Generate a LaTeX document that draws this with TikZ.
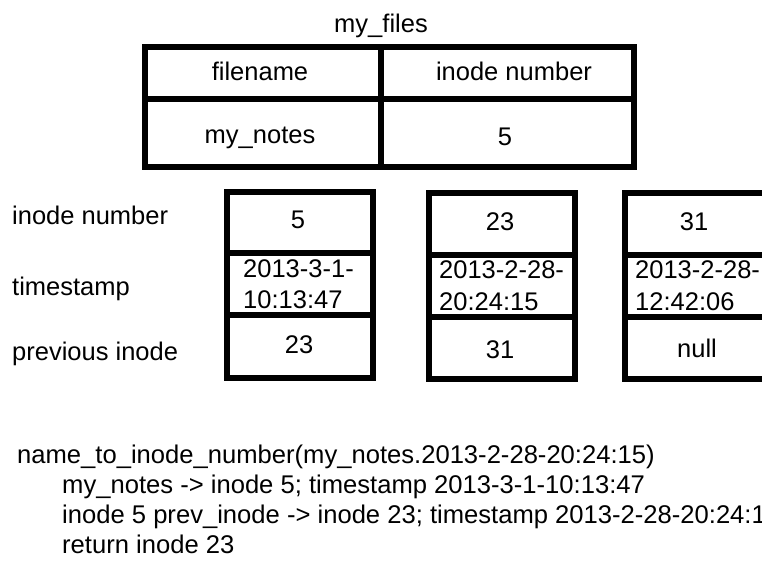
\documentclass[tikz,border=0pt]{standalone}
\usepackage{fontspec}
\setmainfont{Liberation Sans}
\begin{document}
\begin{tikzpicture}[x=1pt,y=1pt,
  font=\fontsize{25.5}{30}\selectfont,
  frame/.style={line width=6pt, draw=black},
  txt/.style={inner sep=0pt, anchor=base},
  ltxt/.style={inner sep=0pt, anchor=base west},
  codetxt/.style={inner sep=0pt, anchor=base west, font=\fontsize{25.6}{30}\selectfont}]
\useasboundingbox (0,0) rectangle (762,-560);
\clip (0,0) rectangle (762,-560);
% ---- my_files table
\node[txt] (title) at (381,-32) {my\_files};
\draw[frame] (145,-47) rectangle (634,-167);
\draw[frame] (145,-99) -- (634,-99);
\draw[frame] (381,-47) -- (381,-167);
\node[txt] (hfile) at (260,-80) {filename};
\node[txt] (hinode) at (514,-80) {inode number};
\node[txt] (vfile) at (260,-143) {my\_notes};
\node[txt] (vinode) at (505,-145) {5};
% ---- row labels
\node[ltxt] (linode) at (12,-224) {inode number};
\node[ltxt] (lstamp) at (12,-295) {timestamp};
\node[ltxt] (lprev) at (12,-360) {previous inode};
% ---- inode 5
\draw[frame] (227,-192) rectangle (373,-378);
\draw[frame] (227,-253) -- (373,-253);
\draw[frame] (227,-315) -- (373,-315);
\node[txt] (aNum) at (298,-228) {5};
\node[ltxt] (aT1) at (243,-277) {2013-3-1-};
\node[ltxt] (aT2) at (243,-308) {10:13:47};
\node[txt] (aPrev) at (299,-353) {23};
% ---- inode 23
\draw[frame] (429,-193) rectangle (575,-379);
\draw[frame] (429,-255) -- (575,-255);
\draw[frame] (429,-317) -- (575,-317);
\node[txt] (bNum) at (500,-230) {23};
\node[ltxt] (bT1) at (439,-278) {2013-2-28-};
\node[ltxt] (bT2) at (439,-310) {20:24:15};
\node[txt] (bPrev) at (500,-358) {31};
% ---- inode 31
\draw[frame] (625,-193) rectangle (771,-379);
\draw[frame] (625,-255) -- (771,-255);
\draw[frame] (625,-317) -- (771,-317);
\node[txt] (cNum) at (694,-230) {31};
\node[ltxt] (cT1) at (635,-278) {2013-2-28-};
\node[ltxt] (cT2) at (635,-310) {12:42:06};
\node[txt] (cPrev) at (697,-357) {null};
% ---- lookup text
\node[codetxt] (l1) at (17,-463) {name\_to\_inode\_number(my\_notes.2013-2-28-20:24:15)};
\node[codetxt] (l2) at (62,-493) {my\_notes -> inode 5; timestamp 2013-3-1-10:13:47};
\node[codetxt] (l3) at (62,-523) {inode 5 prev\_inode -> inode 23; timestamp 2013-2-28-20:24:15};
\node[codetxt] (l4) at (62,-553) {return inode 23};
\end{tikzpicture}
\end{document}
